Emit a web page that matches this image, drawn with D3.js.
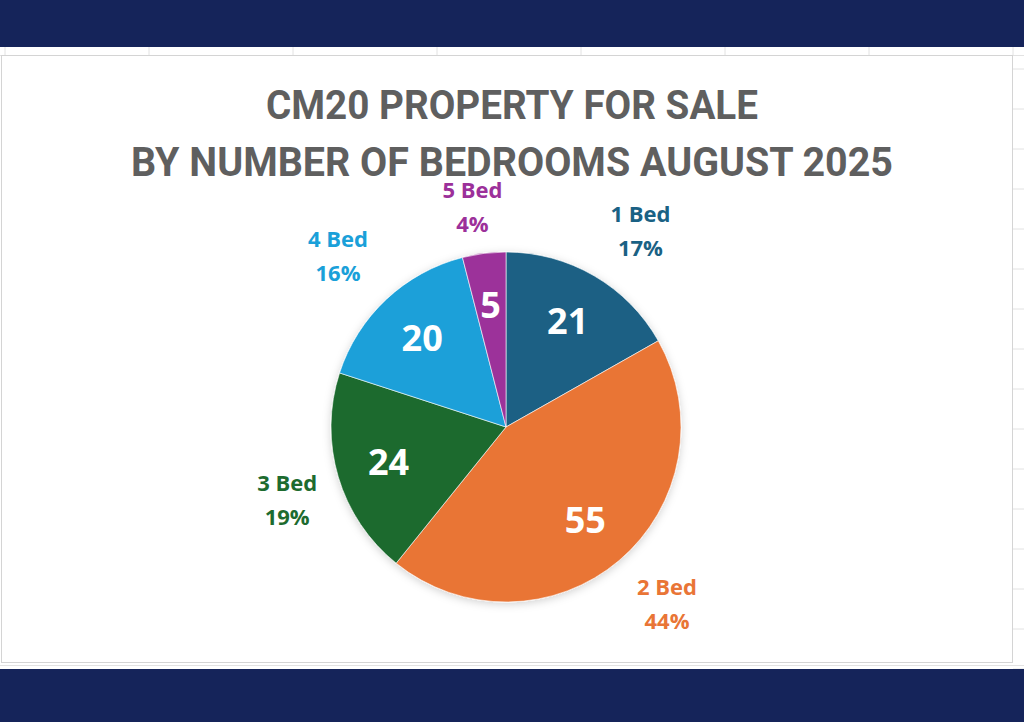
<!DOCTYPE html>
<html>
<head>
<meta charset="utf-8">
<script src="https://cdn.jsdelivr.net/npm/d3@7/dist/d3.min.js"></script>
<style>
  html, body { margin: 0; padding: 0; background: #fff; }
  svg { display: block; }
</style>
</head>
<body>
<div id="chart"></div>
<script>
(function () {

  /***** Data *****/
  var categories = ["1 Bed", "2 Bed", "3 Bed", "4 Bed", "5 Bed"]
  var counts = [21, 55, 24, 20, 5]
  var colours = ["#1a6184", "#e97536", "#1d6b2f", "#1aa0d9", "#9c309a"]
  var titleLines = ["CM20 PROPERTY FOR SALE", "BY NUMBER OF BEDROOMS AUGUST 2025"]

  /***** Configuration *****/
  var width = 1024
  var height = 722
  var navy = "#15245a"
  var cx = 506, cy = 427, radius = 175

  var svg = d3.select("#chart")
      .append("svg")
      .attr("width", width)
      .attr("height", height)

  var defs = svg.append("defs")
  var shadow = defs.append("filter").attr("id", "shadow")
      .attr("x", "-20%").attr("y", "-20%").attr("width", "140%").attr("height", "140%")
  shadow.append("feDropShadow")
      .attr("dx", 0).attr("dy", 2).attr("stdDeviation", 4)
      .attr("flood-color", "#000").attr("flood-opacity", 0.18)

  // spreadsheet backdrop
  svg.append("rect").attr("width", width).attr("height", height).attr("fill", "#fff")
  var grid = svg.append("g").attr("stroke", "#e2e2e2").attr("stroke-width", 1)
  d3.range(5, width, 144).forEach(function (x) {
    grid.append("line").attr("x1", x).attr("x2", x).attr("y1", 47).attr("y2", 56)
  })
  d3.range(69, 670, 40).forEach(function (y) {
    grid.append("line").attr("x1", 1013).attr("x2", width).attr("y1", y).attr("y2", y)
  })
  grid.append("line").attr("x1", 0).attr("x2", width).attr("y1", 55.5).attr("y2", 55.5)
  grid.append("line").attr("x1", 0).attr("x2", width).attr("y1", 665.5).attr("y2", 665.5)

  // chart area
  svg.append("rect")
      .attr("x", 1.5).attr("y", 55.5)
      .attr("width", 1011).attr("height", 607)
      .attr("fill", "#fff")
      .attr("stroke", "#d4d4d4")

  // navy bands
  svg.append("rect").attr("x", 0).attr("y", 0).attr("width", width).attr("height", 47).attr("fill", navy)
  svg.append("rect").attr("x", 0).attr("y", 669).attr("width", width).attr("height", height - 669).attr("fill", navy)

  // title
  var titleWidths = [492, 762]
  svg.append("g").selectAll("text")
      .data(titleLines)
      .join("text")
      .attr("x", width / 2)
      .attr("y", function (d, i) { return 119 + i * 57 })
      .attr("text-anchor", "middle")
      .attr("textLength", function (d, i) { return titleWidths[i] })
      .attr("lengthAdjust", "spacingAndGlyphs")
      .attr("font-family", "Roboto, 'Liberation Sans', sans-serif")
      .attr("font-weight", 700)
      .attr("font-size", 41)
      .attr("fill", "#5f5f5f")
      .text(function (d) { return d })

  /***** Pie *****/
  var total = d3.sum(counts)
  var slices = categories.map(function (c, i) {
    return { category: c, count: counts[i], colour: colours[i] }
  })

  var pie = d3.pie().sort(null).value(function (d) { return d.count })
  var arcs = pie(slices)
  var arc = d3.arc().innerRadius(0).outerRadius(radius)
  var valueArc = d3.arc().innerRadius(radius * 0.7).outerRadius(radius * 0.7)
  var labelArc = d3.arc().innerRadius(radius * 1.06).outerRadius(radius * 1.06)
  var pct = d3.format(".0%")

  // outside labels sit with their box edge just beyond the rim (Excel style)
  var clamp = function (v) { return Math.max(-1, Math.min(1, v)) }
  var halfW = 41, halfH = 36
  function labelPos(d) {
    var p = labelArc.centroid(d)
    var a = (d.startAngle + d.endAngle) / 2
    return [p[0] + halfW * clamp(Math.sin(a) / 0.5),
            p[1] - halfH * clamp(Math.cos(a) / 0.5)]
  }

  var pieGroup = svg.append("g")
      .attr("transform", "translate(" + cx + "," + cy + ")")

  pieGroup.append("g")
      .attr("filter", "url(#shadow)")
      .selectAll("path")
      .data(arcs)
      .join("path")
      .attr("d", arc)
      .attr("fill", function (d) { return d.data.colour })
      .attr("stroke", "#fff")
      .attr("stroke-width", 0.6)

  pieGroup.append("g").selectAll("text")
      .data(arcs)
      .join("text")
      .attr("transform", function (d) { return "translate(" + valueArc.centroid(d) + ")" })
      .attr("text-anchor", "middle")
      .attr("dy", "0.36em")
      .attr("font-family", "'Open Sans', 'Noto Sans', sans-serif")
      .attr("font-weight", 700)
      .attr("font-size", 36)
      .attr("fill", "#fff")
      .text(function (d) { return d.data.count })

  var outer = pieGroup.append("g").selectAll("text")
      .data(arcs)
      .join("text")
      .attr("transform", function (d) { return "translate(" + labelPos(d) + ")" })
      .attr("text-anchor", "middle")
      .attr("font-family", "'Open Sans', 'Noto Sans', sans-serif")
      .attr("font-weight", 700)
      .attr("font-size", 22)
      .attr("fill", function (d) { return d.data.colour })

  outer.append("tspan")
      .attr("x", 0).attr("dy", "-0.42em")
      .text(function (d) { return d.data.category })
  outer.append("tspan")
      .attr("x", 0).attr("dy", "1.55em")
      .text(function (d) { return pct(d.data.count / total) })

})()
</script>
</body>
</html>
